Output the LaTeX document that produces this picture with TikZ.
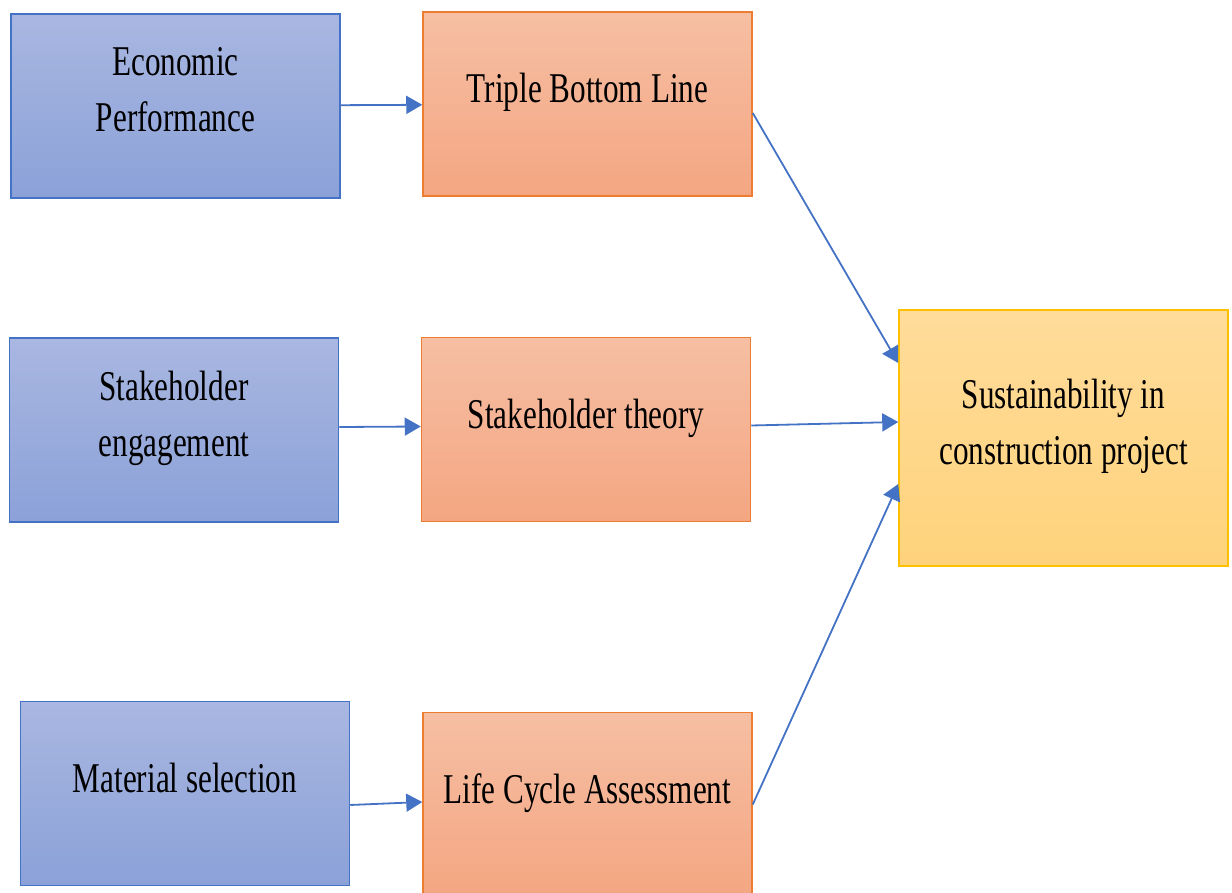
\documentclass[tikz,border=0pt]{standalone}
\usepackage{fontspec}
\usepackage{tikz}
\usetikzlibrary{arrows.meta}

\newfontfamily\boxfont[FakeStretch=0.735]{Liberation Serif}

\definecolor{blueTop}{HTML}{A9B7E1}
\definecolor{blueBot}{HTML}{8BA1D8}
\definecolor{blueLine}{HTML}{4472C4}
\definecolor{orangeTop}{HTML}{F6BFA3}
\definecolor{orangeBot}{HTML}{F4A682}
\definecolor{orangeLine}{HTML}{ED7D31}
\definecolor{goldTop}{HTML}{FFDC9A}
\definecolor{goldBot}{HTML}{FFD37C}
\definecolor{goldLine}{HTML}{FFC000}

\begin{document}
\begin{tikzpicture}[x=0.5pt,y=-0.5pt,
    box/.style={draw, line width=0.75pt, minimum width=164.5pt, minimum height=92pt,
        align=center, font={\boxfont\fontsize{21.2pt}{28pt}\selectfont},
        text height=15pt, text depth=16pt},
    twolines/.style={text height=42pt, text depth=16pt},
    factor/.style={box, draw=blueLine, top color=blueTop, bottom color=blueBot},
    theory/.style={box, draw=orangeLine, top color=orangeTop, bottom color=orangeBot},
    goal/.style={box, draw=goldLine, top color=goldTop, bottom color=goldBot, minimum height=128pt},
    link/.style={draw=blueLine, line width=0.9pt, -{Triangle[length=8pt,width=9pt]}}]

    \useasboundingbox (0,0) rectangle (1232,893);

    \node[factor, twolines] (econ) at (175.5,106) {Economic\\Performance};
    \node[factor, twolines] (stake) at (174,430) {Stakeholder\\engagement};
    \node[factor] (mat) at (185,793.5) {Material selection};

    \node[theory] (tbl) at (587.5,104) {Triple Bottom Line};
    \node[theory] (stheory) at (586,429.5) {Stakeholder theory};
    \node[theory] (lca) at (587.5,804.5) {Life Cycle Assessment};

    \node[goal, twolines] (sust) at (1063.5,438) {Sustainability in\\construction project};

    \draw[link] (econ) -- (tbl);
    \draw[link] ([yshift=1.5pt]stake.east) -- ([yshift=1.5pt]stheory.west);
    \draw[link] ([yshift=-5.75pt]mat.east) -- ([yshift=1.25pt]lca.west);

    \draw[link] ([yshift=-4.5pt]tbl.east) -- ([yshift=37.5pt]sust.west);
    \draw[link] ([yshift=2pt]stheory.east) -- ([yshift=8pt]sust.west);
    \draw[link] (lca.east) -- ([yshift=-23pt]sust.west);

\end{tikzpicture}
\end{document}
